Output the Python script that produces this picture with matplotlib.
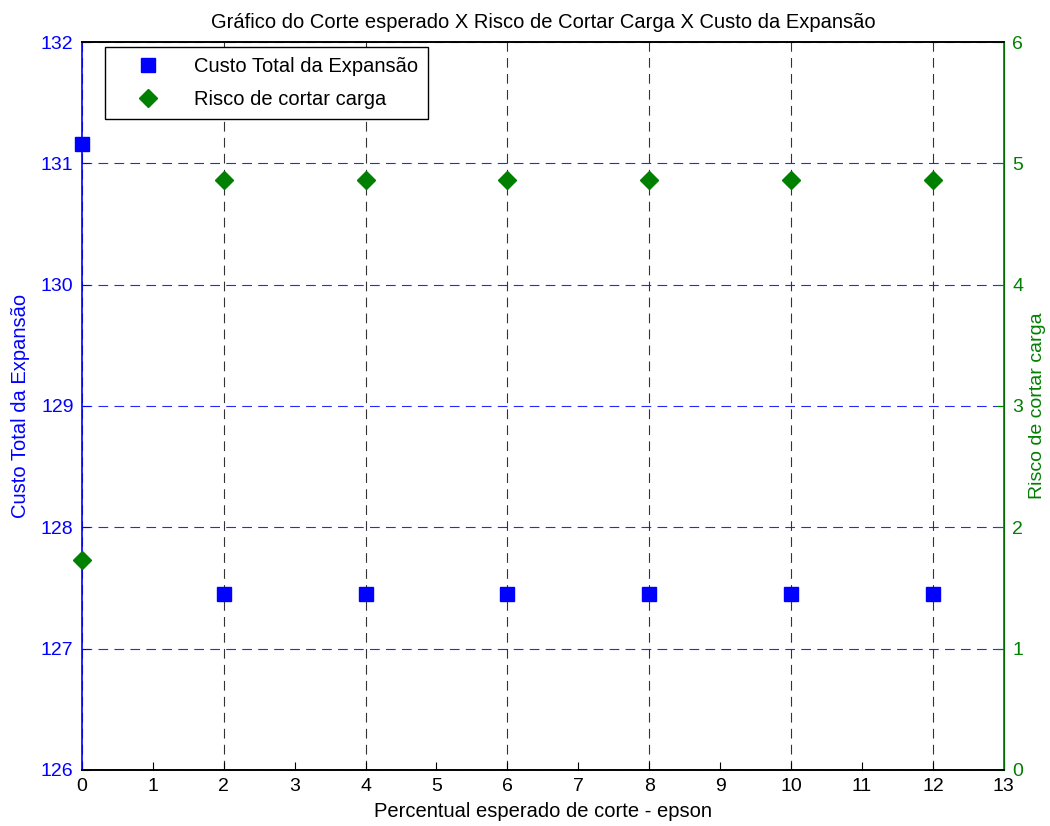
import matplotlib

matplotlib.use("Agg")
import matplotlib.pyplot as plt
from matplotlib.lines import Line2D

# data
epson = [0, 2, 4, 6, 8, 10, 12]
custo_total = [131.16, 127.45, 127.45, 127.45, 127.45, 127.45, 127.45]
risco_corte = [1.73, 4.86, 4.86, 4.86, 4.86, 4.86, 4.86]

x_ticks = list(range(0, 14))
x_grid_ticks = list(range(0, 13, 2))
custo_ticks = list(range(126, 133))
risco_ticks = list(range(0, 7))

BLUE = "#0000ff"
GREEN = "#008000"

plt.rcParams.update({
    "font.family": ["Liberation Sans", "DejaVu Sans"],
    "font.size": 14,
    "lines.scale_dashes": False,
})

fig = plt.figure(figsize=(10.5, 8.26), dpi=100)
ax = fig.add_axes([0.078, 0.068, 0.878, 0.881])
ax2 = ax.twinx()

ax.plot(epson, custo_total, ls="none", marker="s", ms=10, color=BLUE,
        label="Custo Total da Expansão", zorder=3, clip_on=False)
ax2.plot(epson, risco_corte, ls="none", marker="D", ms=9, color=GREEN,
         label="Risco de cortar carga", zorder=3, clip_on=False)

ax.set_xlim(0, 13)
ax.set_ylim(126, 132)
ax2.set_ylim(0, 6)
ax.set_xticks(x_ticks)
ax.set_yticks(custo_ticks)
ax2.set_yticks(risco_ticks)

# grids: horizontal blue from left axis, vertical black at even x
for yv in custo_ticks:
    ax.axhline(yv, color=BLUE, lw=0.8, ls=(0, (7, 4.5)), alpha=0.85, zorder=1)
for xv in x_grid_ticks:
    ax.axvline(xv, color="#333333", lw=0.8, ls=(0, (7, 4.5)), zorder=1)

ax.tick_params(axis="x", direction="in", length=6, top=False, colors="black",
               pad=6)
ax.tick_params(axis="y", direction="in", length=6, colors=BLUE, pad=6)
ax2.tick_params(axis="y", direction="in", length=6, colors=GREEN, pad=6)

ax.spines["left"].set_color(BLUE)
ax.spines["left"].set_linewidth(1.2)
ax2.spines["left"].set_visible(False)
ax2.spines["right"].set_color(GREEN)
ax2.spines["right"].set_linewidth(1.2)
for sp in ("top", "bottom"):
    ax.spines[sp].set_linewidth(1.2)
    ax2.spines[sp].set_linewidth(1.2)

ax.set_xlabel("Percentual esperado de corte - epson", fontsize=14.5, labelpad=5)
ax.set_ylabel("Custo Total da Expansão", color=BLUE, fontsize=14.5, labelpad=8)
ax2.set_ylabel("Risco de cortar carga", color=GREEN, fontsize=14, labelpad=4)
ax.set_title("Gráfico do Corte esperado X Risco de Cortar Carga X Custo da Expansão",
             fontsize=14.5, pad=10)

handles = [
    Line2D([], [], ls="none", marker="s", ms=10, color=BLUE),
    Line2D([], [], ls="none", marker="D", ms=9, color=GREEN),
]
leg = ax2.legend(handles, ["Custo Total da Expansão", "Risco de cortar carga"],
                 loc="upper left", bbox_to_anchor=(0.025, 0.993),
                 borderaxespad=0, fancybox=False, framealpha=1,
                 edgecolor="black", handlelength=3.3, handletextpad=0.6,
                 borderpad=0.5, labelspacing=0.7, fontsize=14.5)
leg.get_frame().set_linewidth(1.0)

fig.savefig("out.png", dpi=100)
